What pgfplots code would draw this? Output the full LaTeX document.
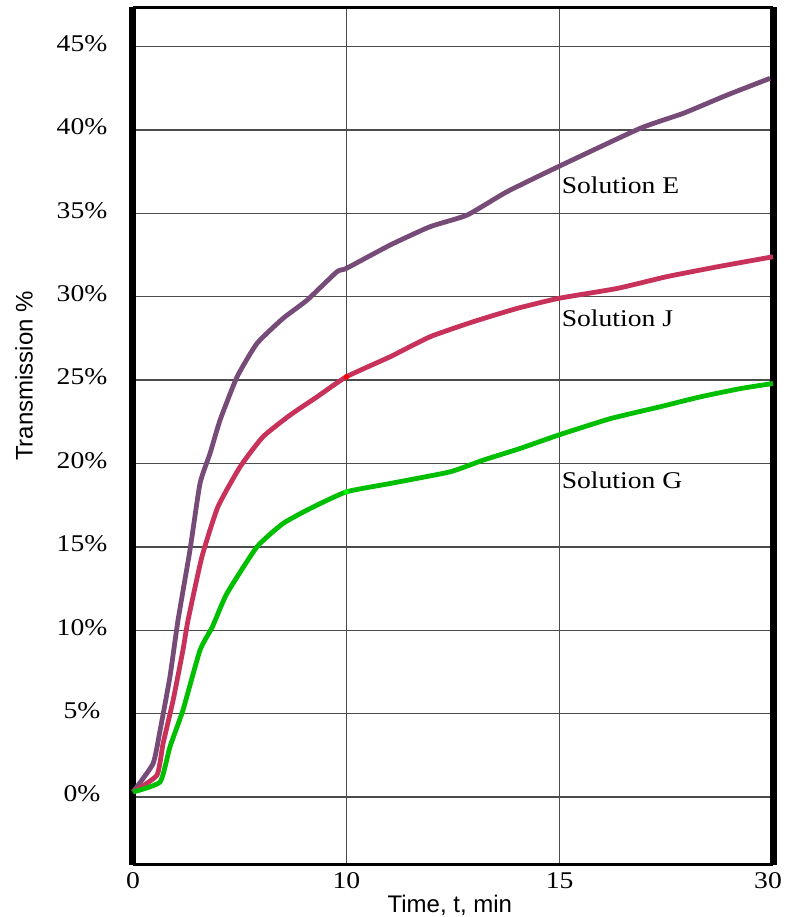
\documentclass[border=0pt]{standalone}
\usepackage{fontspec}
\setmainfont[FakeStretch=1.15]{Liberation Serif}
\setsansfont{Liberation Sans}
\usepackage{pgfplots}
\pgfplotsset{compat=1.18}
\definecolor{cE}{RGB}{118,75,120}
\definecolor{cJ}{RGB}{200,50,90}
\definecolor{cG}{RGB}{0,190,0}
\begin{document}
\begin{tikzpicture}
\begin{axis}[
  scale only axis, width=640pt, height=857pt,
  xmin=0, xmax=3, ymin=-4.05, ymax=47.35,
  xtick={0,1,2,3}, xticklabels={0,10,15,\makebox[0pt]{\hspace{-10pt}30}},
  ytick={0,5,...,45},
  yticklabels={0\%,5\%,10\%,15\%,20\%,25\%,30\%,35\%,40\%,45\%},
  grid=major, major grid style={line width=1.4pt, color=black!70},
  major tick length=0pt,
  separate axis lines,
  x axis line style={line width=3.2pt},
  y axis line style={line width=7pt},
  tick label style={font=\fontsize{24}{28}\selectfont},
  xticklabel style={anchor=base, yshift=-23.5pt},
  yticklabel style={anchor=center, xshift=-51pt, yshift=3pt},
  xlabel={Time, t, min}, ylabel={Transmission \%},
  every axis x label/.style={at={(rel axis cs:0.495,0)}, anchor=base, yshift=-47.5pt, font=\sffamily\fontsize{24}{28}\selectfont},
  every axis y label/.style={at={(rel axis cs:0,0.57)}, xshift=-109pt, rotate=90, anchor=center, font=\sffamily\fontsize{24}{28}\selectfont},
  clip=false,
]
\addplot[cE, line width=4.8pt, line join=round, no markers, smooth, tension=0.3] coordinates {
(0.0,0.3) (0.094,2.0) (0.127,4.0) (0.173,7.2) (0.211,10.6) (0.267,14.8)
(0.314,18.8) (0.361,20.6) (0.408,22.6) (0.488,25.2) (0.581,27.2) (0.703,28.7)
(0.816,29.8) (0.956,31.5) (1.0,31.7) (1.205,33.1) (1.392,34.2) (1.566,34.9)
(1.753,36.3) (1.993,37.8) (2.377,40.1) (2.579,41.0) (2.785,42.1) (2.986,43.1)
};
\addplot[cJ, line width=4.8pt, line join=round, no markers, smooth, tension=0.3] coordinates {
(0.0,0.3) (0.112,1.3) (0.141,3.2) (0.188,5.8) (0.234,8.8) (0.258,10.6)
(0.323,14.4) (0.398,17.4) (0.502,19.8) (0.609,21.6) (0.736,22.9) (0.863,24.0)
(1.0,25.2) (1.205,26.4) (1.392,27.6) (1.594,28.5) (1.8,29.3) (1.993,29.9)
(2.27,30.5) (2.5,31.2) (2.74,31.8) (3.0,32.4)
};
\addplot[cG, line width=4.8pt, line join=round, no markers, smooth, tension=0.3] coordinates {
(0.0,0.3) (0.127,0.9) (0.173,3.0) (0.234,5.2) (0.314,8.8) (0.372,10.2)
(0.44,12.2) (0.581,15.0) (0.703,16.4) (0.83,17.3) (1.0,18.3) (1.205,18.8)
(1.486,19.5) (1.641,20.2) (1.814,20.9) (1.993,21.7) (2.24,22.7) (2.47,23.4)
(2.66,24.0) (2.85,24.5) (3.0,24.8)
};
\addplot[only marks, mark=*, mark size=2.4pt, red] coordinates {(1.0,25.2)};
\addplot[only marks, mark=*, mark size=2.4pt, green] coordinates {(1.0,18.3)};
\node[anchor=base west, inner sep=0pt, font=\fontsize{24}{28}\selectfont] at (axis cs:2.009,36.17) {Solution E};
\node[anchor=base west, inner sep=0pt, font=\fontsize{24}{28}\selectfont] at (axis cs:2.009,28.2) {Solution J};
\node[anchor=base west, inner sep=0pt, font=\fontsize{24}{28}\selectfont] at (axis cs:2.009,18.5) {Solution G};
\coordinate (sw) at (rel axis cs:0,0);
\coordinate (ne) at (rel axis cs:1,1);
\end{axis}
\pgfresetboundingbox
\path[use as bounding box] ([xshift=-133pt,yshift=-52.5pt]sw) rectangle ([xshift=11pt,yshift=7.5pt]ne);
\end{tikzpicture}
\end{document}
